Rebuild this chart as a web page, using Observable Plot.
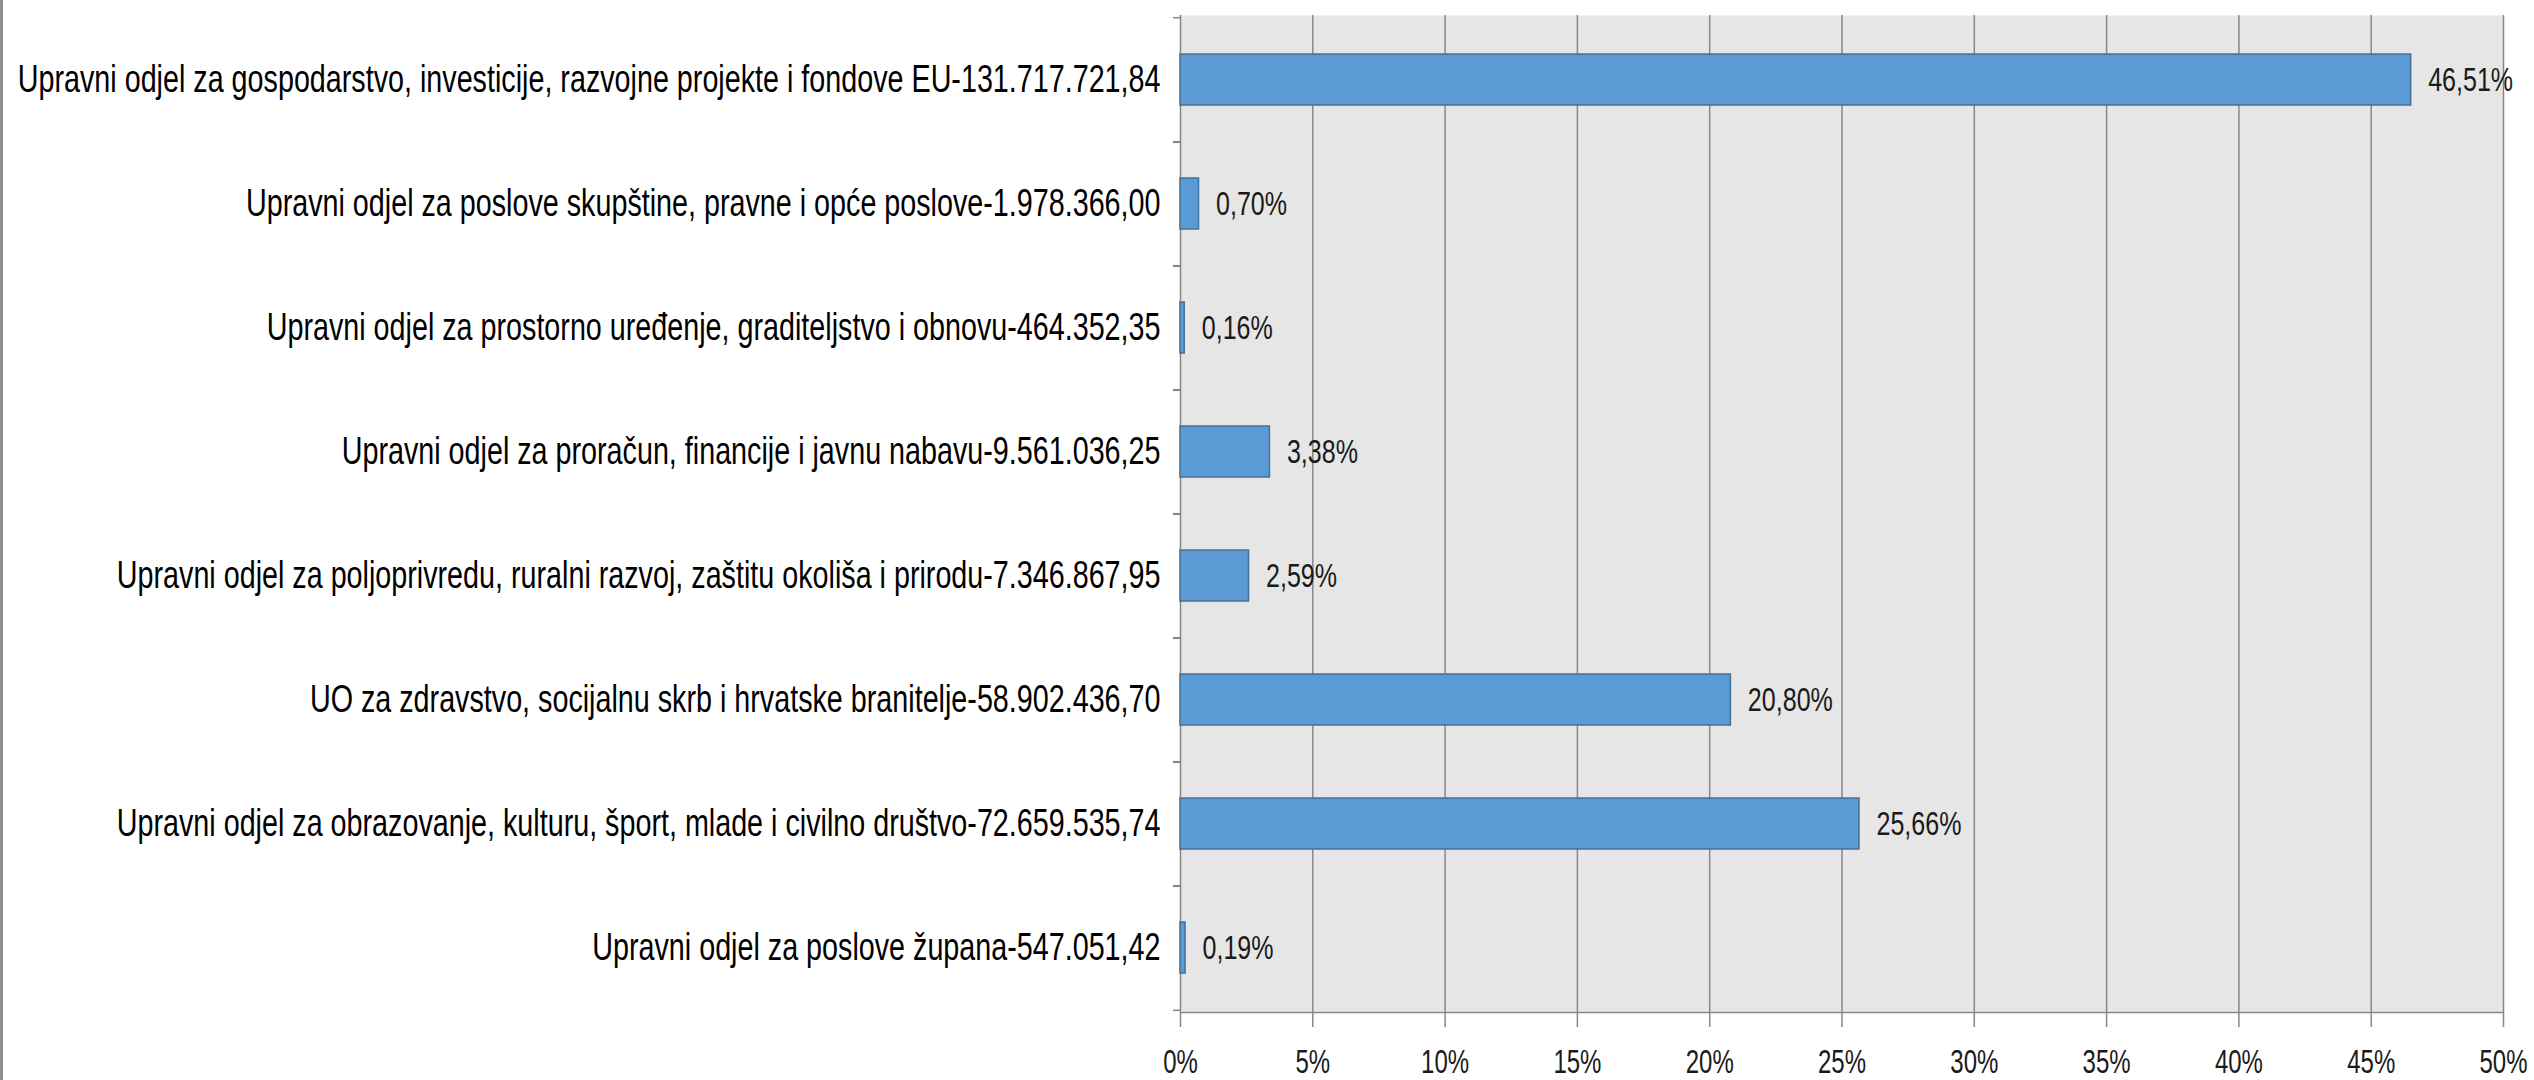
<!DOCTYPE html>
<html>
<head>
<meta charset="utf-8">
<script src="https://cdn.jsdelivr.net/npm/d3@7"></script>
<script src="https://cdn.jsdelivr.net/npm/@observablehq/plot@0.6"></script>
<style>
  html, body { margin: 0; padding: 0; background: #ffffff; }
  #wrap { position: relative; width: 2534px; height: 1080px; overflow: hidden; }
  #edge { position: absolute; left: 0; top: 0; width: 3px; height: 1080px; background: #8f8f8f; }
</style>
</head>
<body>
<div id="wrap"><div id="edge"></div></div>
<script>
const categories = [
  "Upravni odjel za gospodarstvo, investicije, razvojne projekte i fondove EU-131.717.721,84",
  "Upravni odjel za poslove skupštine, pravne i opće poslove-1.978.366,00",
  "Upravni odjel za prostorno uređenje, graditeljstvo i obnovu-464.352,35",
  "Upravni odjel za proračun, financije i javnu nabavu-9.561.036,25",
  "Upravni odjel za poljoprivredu, ruralni razvoj, zaštitu okoliša i prirodu-7.346.867,95",
  "UO za zdravstvo, socijalnu skrb i hrvatske branitelje-58.902.436,70",
  "Upravni odjel za obrazovanje, kulturu, šport, mlade i civilno društvo-72.659.535,74",
  "Upravni odjel za poslove župana-547.051,42"
];
const shares = [46.51, 0.70, 0.16, 3.38, 2.59, 20.80, 25.66, 0.19];
const xTicks = [0, 5, 10, 15, 20, 25, 30, 35, 40, 45, 50];

const data = categories.map((c, i) => ({category: c, share: shares[i]}));

const W = 2534, H = 1080;
const mL = 1180, mR = 31, mT = 15, mB = 68;
const step = (H - mT - mB) / categories.length;
const gridColor = "#878787";
const font = "'Liberation Sans Narrow', 'Arial Narrow', 'Liberation Sans', Arial, sans-serif";
const fmtPct = v => v.toFixed(2).replace(".", ",") + "%";

const chart = Plot.plot({
  width: W,
  height: H,
  marginLeft: mL,
  marginRight: mR,
  marginTop: mT,
  marginBottom: mB,
  style: {background: "#ffffff", color: "#000000", overflow: "visible"},
  x: {domain: [0, 50]},
  y: {domain: categories, paddingInner: 0.59, paddingOuter: 0.295},
  marks: [
    Plot.frame({fill: "#e6e6e6", stroke: null}),
    Plot.gridX(xTicks, {stroke: gridColor, strokeOpacity: 1, strokeWidth: 1.5}),
    Plot.axisX({
      ticks: xTicks, tickSize: 15, tickPadding: 21,
      tickFormat: d => d + "%",
      fontSize: 34, fontFamily: font, fill: "#1a1a1a",
      stroke: gridColor, strokeWidth: 1.5, label: null
    }),
    Plot.frame({anchor: "bottom", stroke: gridColor, strokeWidth: 1.5}),
    Plot.barX(data, {
      x: "share", y: "category",
      fill: "#5b9bd5", stroke: "#41719c", strokeWidth: 1.5
    }),
    Plot.text(data, {
      x: "share", y: "category",
      text: d => fmtPct(d.share),
      textAnchor: "start", dx: 17,
      fontSize: 34, fontFamily: font, fill: "#1a1a1a"
    }),
    Plot.axisY({
      tickSize: 0, tickPadding: 20, fontSize: 38, fontFamily: font,
      fill: "#000000", label: null
    }),
    Plot.axisY({
      tickSize: 7, tickFormat: () => "", dy: step / 2,
      stroke: gridColor, strokeWidth: 1.5, label: null
    }),
    Plot.axisY({
      tickSize: 7, tickFormat: () => "", dy: -step / 2,
      stroke: gridColor, strokeWidth: 1.5, label: null
    })
  ]
});

document.getElementById("wrap").prepend(chart);

// remove empty tick-label texts of the boundary-tick axes
chart.querySelectorAll("text").forEach(t => { if (t.textContent === "") t.remove(); });

// The reference's lettering is horizontally condensed: squeeze each text about its anchor
function squeeze(t, k) {
  const bb = t.getBBox();
  const anchor = getComputedStyle(t).textAnchor;
  const ax = anchor === "end" ? bb.x + bb.width : anchor === "middle" ? bb.x + bb.width / 2 : bb.x;
  const prev = t.getAttribute("transform") || "";
  t.setAttribute("transform", `${prev} translate(${ax},0) scale(${k},1) translate(${-ax},0)`.trim());
}
function fitGroup(texts, sampleText, targetWidth) {
  const sample = texts.find(t => t.textContent === sampleText);
  if (!sample) return;
  const k = targetWidth / sample.getComputedTextLength();
  if (k < 1) texts.forEach(t => squeeze(t, k));
}
const yLabels = Array.from(chart.querySelectorAll('[aria-label="y-axis tick label"] text'));
const xLabels = Array.from(chart.querySelectorAll('[aria-label="x-axis tick label"] text'));
const barLabels = Array.from(chart.querySelectorAll('[aria-label="text"] text'));
fitGroup(yLabels, categories[0], 1143);
fitGroup(barLabels, fmtPct(shares[0]), 85);
fitGroup(xLabels, "45%", 48);
</script>
</body>
</html>
